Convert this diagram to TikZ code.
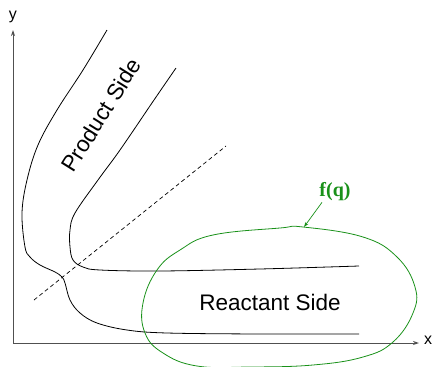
\documentclass[tikz,border=0pt]{standalone}
\usepackage{fontspec}
\setmainfont{Liberation Serif}
\setsansfont{Liberation Sans}
\usetikzlibrary{arrows.meta}
\definecolor{fgreen}{RGB}{25,145,25}
\definecolor{axisgray}{RGB}{80,80,80}
\tikzset{
  axis/.style={draw=axisgray, line width=1pt, -{Stealth[length=6pt,width=4pt]}},
  curve/.style={draw=black, line width=0.8pt},
  divider/.style={draw=black, line width=0.7pt, dash pattern=on 4pt off 3pt},
  blob/.style={draw=fgreen, line width=0.8pt},
  sidelabel/.style={font=\sffamily\fontsize{22.5}{26}\selectfont, inner sep=0pt},
  axlabel/.style={font=\sffamily\fontsize{16}{18}\selectfont, inner sep=0pt},
  flabel/.style={font=\bfseries\fontsize{20}{22}\selectfont, text=fgreen, inner sep=1pt},
  pointer/.style={draw=fgreen, line width=0.7pt, -{Stealth[length=5pt,width=3.5pt]}}
}
\begin{document}
\begin{tikzpicture}[x=1pt,y=-1pt]
\useasboundingbox (0,0) rectangle (434,367);
% axes
\coordinate (O) at (13,343);
\coordinate (xend) at (419,343);
\coordinate (yend) at (13,30);
\draw[axis] (O) -- (xend);
\draw[axis] (O) -- (yend);
\node[axlabel] (xl) at (428,340) {x};
\node[axlabel] (yl) at (13,17) {y};
% outer curve
\draw[curve] plot[smooth, tension=0.6] coordinates {(107,30) (83,70) (57,110) (38,145) (27,180) (22,213) (25,247) (30,257) (40,265) (55,272) (62,277) (65,283) (70,300) (80,313) (97,323) (127,330) (167,333) (260,334) (359,334)};
% inner curve
\draw[curve] plot[smooth, tension=0.6] coordinates {(176,68) (154,100) (120,150) (98,180) (75,213) (70,230) (70,247) (73,260) (83,267) (100,270) (160,271) (260,269) (359,266)};
% dividing line
\coordinate (d1) at (34,300);
\coordinate (d2) at (226,146);
\draw[divider] (d1) -- (d2);
% green region
\draw[blob] plot[smooth cycle, tension=0.7] coordinates {(143,303) (157,270) (180,250) (213,235) (280,228) (303,227) (363,237) (397,257) (415,287) (413,313) (393,342) (363,357) (313,365) (250,367) (197,366) (163,353) (145,333)};
% labels
\node[sidelabel, rotate=58] (prod) at (101,115) {Product Side};
\node[sidelabel] (react) at (270,302) {Reactant Side};
\node[flabel] (fq) at (335,192) {f(q)};
\coordinate (ftip) at (304,227);
\draw[pointer] (fq.south) ++(-13,0) -- (ftip);
\end{tikzpicture}
\end{document}
